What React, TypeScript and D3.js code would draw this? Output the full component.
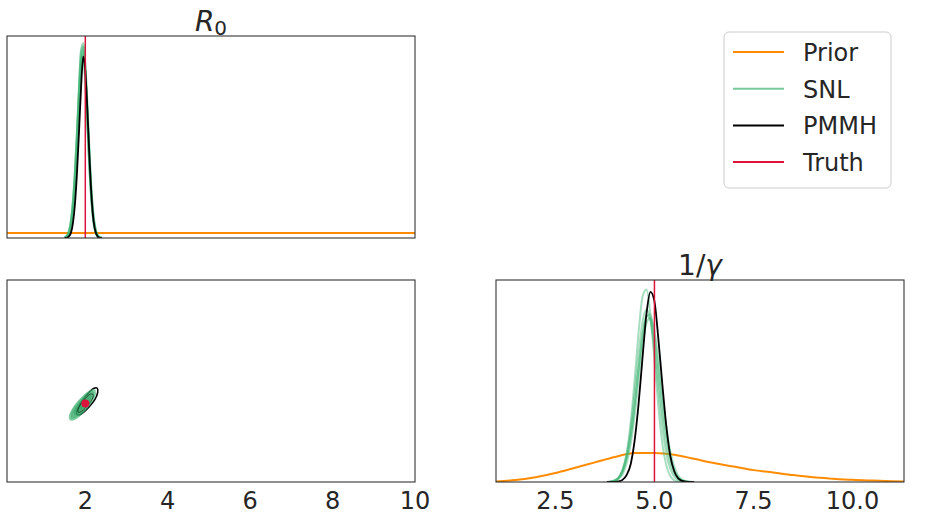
import * as React from "react";
import * as d3 from "d3";

// R0 marginal (top-left)
const r0Grid = [1.5, 1.55, 1.6, 1.65, 1.7, 1.75, 1.8, 1.85, 1.9, 1.95, 2.0, 2.05, 2.1, 2.15, 2.2, 2.25, 2.3, 2.35, 2.4];
const r0Pmmh = [0, 0.005, 0.03, 0.1, 0.3, 0.7, 1.35, 2.2, 3.1, 3.68, 3.4, 2.6, 1.65, 0.85, 0.35, 0.12, 0.03, 0.005, 0];
const r0SnlRuns = [
  [0.01, 0.04, 0.12, 0.32, 0.7, 1.3, 2.1, 3.0, 3.75, 3.88, 3.3, 2.4, 1.5, 0.8, 0.35, 0.13, 0.04, 0.01, 0],
  [0.01, 0.03, 0.1, 0.28, 0.62, 1.2, 2.0, 2.95, 3.8, 3.95, 3.4, 2.5, 1.55, 0.82, 0.36, 0.13, 0.04, 0.01, 0],
  [0, 0.02, 0.08, 0.22, 0.52, 1.05, 1.85, 2.8, 3.55, 3.8, 3.45, 2.65, 1.7, 0.92, 0.42, 0.16, 0.05, 0.015, 0],
  [0.01, 0.03, 0.11, 0.3, 0.68, 1.28, 2.08, 2.95, 3.6, 3.72, 3.25, 2.45, 1.58, 0.86, 0.38, 0.14, 0.045, 0.01, 0],
];
const r0PriorX = [0.1, 10];
const r0PriorY = [0.101, 0.101];

// 1/gamma marginal (bottom-right)
const gammaGrid = [3.8, 3.9, 4.0, 4.1, 4.2, 4.3, 4.4, 4.5, 4.6, 4.7, 4.8, 4.9, 5.0, 5.1, 5.2, 5.3, 5.4, 5.5, 5.6, 5.7, 5.8, 5.9, 6.0];
const gammaPmmh = [0, 0, 0.001, 0.005, 0.02, 0.06, 0.15, 0.35, 0.66, 1.05, 1.42, 1.6, 1.52, 1.2, 0.82, 0.47, 0.22, 0.09, 0.03, 0.01, 0.003, 0, 0];
const gammaSnlRuns = [
  [0, 0.003, 0.01, 0.03, 0.1, 0.24, 0.5, 0.86, 1.26, 1.56, 1.62, 1.4, 1.03, 0.63, 0.32, 0.14, 0.05, 0.015, 0.004, 0.001, 0, 0, 0],
  [0.001, 0.004, 0.015, 0.04, 0.1, 0.21, 0.39, 0.65, 0.95, 1.23, 1.4, 1.41, 1.23, 0.95, 0.65, 0.39, 0.21, 0.1, 0.04, 0.015, 0.004, 0.001, 0],
  [0.001, 0.003, 0.01, 0.03, 0.07, 0.16, 0.32, 0.56, 0.86, 1.15, 1.34, 1.38, 1.27, 1.02, 0.73, 0.46, 0.26, 0.13, 0.055, 0.02, 0.007, 0.002, 0],
  [0.001, 0.004, 0.014, 0.04, 0.11, 0.24, 0.45, 0.75, 1.08, 1.35, 1.45, 1.36, 1.1, 0.77, 0.46, 0.24, 0.11, 0.045, 0.015, 0.005, 0.001, 0, 0],
  [0.001, 0.003, 0.012, 0.035, 0.09, 0.2, 0.38, 0.64, 0.96, 1.24, 1.4, 1.36, 1.16, 0.86, 0.56, 0.32, 0.16, 0.07, 0.027, 0.009, 0.003, 0.001, 0],
];
const gammaPriorX = [1.0, 1.5, 2.0, 2.5, 3.0, 3.5, 4.0, 4.5, 5.0, 5.5, 6.0, 6.5, 7.0, 7.5, 8.0, 8.5, 9.0, 9.5, 10.0, 10.5, 11.0, 11.3];
const gammaPriorY = [0.004, 0.017, 0.04, 0.075, 0.12, 0.165, 0.21, 0.245, 0.245, 0.23, 0.195, 0.16, 0.13, 0.1, 0.08, 0.058, 0.04, 0.028, 0.018, 0.012, 0.007, 0.005];

// joint contours (bottom-left), [R0, 1/gamma]
const snlContours: [number, number][][] = [
  [[2.235, 5.69], [2.25, 5.49], [2.18, 5.14], [2.04, 4.73], [1.88, 4.38], [1.73, 4.17], [1.63, 4.16], [1.61, 4.36], [1.68, 4.71], [1.82, 5.12], [1.99, 5.48], [2.14, 5.69]],
  [[2.2, 5.6], [2.21, 5.42], [2.14, 5.1], [2.01, 4.76], [1.87, 4.45], [1.74, 4.26], [1.66, 4.25], [1.65, 4.42], [1.71, 4.74], [1.84, 5.1], [1.99, 5.42], [2.11, 5.6]],
  [[2.13, 5.42], [2.14, 5.29], [2.09, 5.07], [2.0, 4.8], [1.9, 4.57], [1.8, 4.44], [1.74, 4.43], [1.72, 4.56], [1.77, 4.79], [1.86, 5.05], [1.97, 5.29], [2.07, 5.42]],
  [[2.04, 5.2], [2.04, 5.13], [2.02, 5.0], [1.97, 4.86], [1.91, 4.74], [1.86, 4.67], [1.83, 4.67], [1.82, 4.74], [1.84, 4.86], [1.89, 5.0], [1.95, 5.12], [2.0, 5.2]],
];
const pmmhContours: [number, number][][] = [
  [[2.29, 5.78], [2.3, 5.56], [2.23, 5.2], [2.1, 4.85], [1.97, 4.58], [1.86, 4.43], [1.8, 4.43], [1.79, 4.58], [1.85, 4.88], [1.96, 5.24], [2.09, 5.57], [2.21, 5.78]],
  [[2.18, 5.48], [2.19, 5.34], [2.13, 5.1], [2.04, 4.86], [1.95, 4.67], [1.87, 4.56], [1.83, 4.56], [1.82, 4.67], [1.86, 4.88], [1.94, 5.12], [2.04, 5.35], [2.12, 5.48]],
];

const truthR0 = 2;
const truthInvGamma = 5;

const r0Ticks = [2, 4, 6, 8, 10];
const gammaTicks = [2.5, 5.0, 7.5, 10.0];
const legendLabels = ["Prior", "SNL", "PMMH", "Truth"];

const ORANGE = "#ff8c00";
const GREEN = "#3cb371";
const DARKGREEN = "#2e9e5e";
const RED = "#dc143c";
const FRAME = "#333333";
const TEXT = "#262626";
const FONT = "DejaVu Sans, sans-serif";

const TL = { x: 7, y: 36, w: 408, h: 202 };
const BL = { x: 7, y: 280, w: 408, h: 202 };
const BR = { x: 496, y: 280, w: 408, h: 202 };

export default function App() {
  const xR0 = d3.scaleLinear().domain([0.1, 10]).range([BL.x, BL.x + BL.w]);
  const xGamma = d3.scaleLinear().domain([1.0, 11.3]).range([BR.x, BR.x + BR.w]);
  const yR0Dens = d3.scaleLinear().domain([0, 4.1]).range([TL.y + TL.h, TL.y]);
  const yGammaDens = d3.scaleLinear().domain([0, 1.7]).range([BR.y + BR.h, BR.y]);
  const yJoint = d3.scaleLinear().domain([1.0, 11.3]).range([BL.y + BL.h, BL.y]);

  const densLine = (xs: number[], ys: number[], sx: any, sy: any) =>
    d3
      .line<number>()
      .x((_, i) => sx(xs[i]))
      .y((d) => sy(d))
      .curve(d3.curveMonotoneX)(ys) as string;

  const contour = d3
    .line<[number, number]>()
    .x((d) => xR0(d[0]))
    .y((d) => yJoint(d[1]))
    .curve(d3.curveCatmullRomClosed.alpha(0.5));

  const frame = (p: typeof TL) => (
    <rect x={p.x} y={p.y} width={p.w} height={p.h} fill="none" stroke={FRAME} strokeWidth={1.1} />
  );

  return (
    <svg width={934} height={521} style={{ position: "absolute", left: 0, top: 0, background: "#fff" }} fontFamily={FONT}>
      <defs>
        {[TL, BL, BR].map((p, i) => (
          <clipPath id={`clip${i}`} key={i}>
            <rect x={p.x} y={p.y} width={p.w} height={p.h} />
          </clipPath>
        ))}
      </defs>

      {/* R0 marginal */}
      <g clipPath="url(#clip0)">
        <path d={densLine(r0PriorX, r0PriorY, xR0, yR0Dens)} fill="none" stroke={ORANGE} strokeWidth={2} />
        {r0SnlRuns.map((run, i) => (
          <path key={i} d={densLine(r0Grid, run, xR0, yR0Dens)} fill="none" stroke={GREEN} strokeOpacity={0.5} strokeWidth={2.5} />
        ))}
        <path d={densLine(r0Grid, r0Pmmh, xR0, yR0Dens)} fill="none" stroke="#000" strokeWidth={1.8} />
        <line x1={xR0(truthR0)} x2={xR0(truthR0)} y1={TL.y} y2={TL.y + TL.h} stroke={RED} strokeWidth={1.5} />
      </g>
      {frame(TL)}
      <text x={TL.x + TL.w / 2} y={31} textAnchor="middle" fontSize={28} fill={TEXT}>
        <tspan fontStyle="italic">R</tspan>
        <tspan fontSize={20} dy={4}>0</tspan>
      </text>

      {/* joint */}
      <g clipPath="url(#clip1)">
        {pmmhContours.slice(0, 1).map((c, i) => (
          <path key={i} d={contour(c) as string} fill="none" stroke="#000" strokeWidth={1.6} />
        ))}
        {snlContours.map((c, i) => (
          <path key={i} d={contour(c) as string} fill={i === 0 ? GREEN : DARKGREEN} fillOpacity={i === 0 ? 0.6 : 0.45} stroke={GREEN} strokeOpacity={0.5} strokeWidth={0.8} />
        ))}
        {pmmhContours.slice(1).map((c, i) => (
          <path key={i} d={contour(c) as string} fill="none" stroke="#000" strokeOpacity={0.7} strokeWidth={0.8} />
        ))}
        <circle cx={xR0(truthR0)} cy={yJoint(truthInvGamma)} r={4} fill={RED} />
      </g>
      {frame(BL)}
      {r0Ticks.map((t) => (
        <text key={t} x={xR0(t)} y={509} textAnchor="middle" fontSize={24} fill={TEXT}>
          {t}
        </text>
      ))}

      {/* 1/gamma marginal */}
      <g clipPath="url(#clip2)">
        <path d={densLine(gammaPriorX, gammaPriorY, xGamma, yGammaDens)} fill="none" stroke={ORANGE} strokeWidth={2} />
        {gammaSnlRuns.map((run, i) => (
          <path key={i} d={densLine(gammaGrid, run, xGamma, yGammaDens)} fill="none" stroke={GREEN} strokeOpacity={0.45} strokeWidth={2} />
        ))}
        <path d={densLine(gammaGrid, gammaPmmh, xGamma, yGammaDens)} fill="none" stroke="#000" strokeWidth={1.8} />
        <line x1={xGamma(truthInvGamma)} x2={xGamma(truthInvGamma)} y1={BR.y} y2={BR.y + BR.h} stroke={RED} strokeWidth={1.5} />
      </g>
      {frame(BR)}
      {gammaTicks.map((t) => (
        <text key={t} x={xGamma(t)} y={509} textAnchor="middle" fontSize={24} fill={TEXT}>
          {t.toFixed(1)}
        </text>
      ))}
      <text x={BR.x + BR.w / 2} y={275} textAnchor="middle" fontSize={28} fill={TEXT}>
        <tspan>1/</tspan>
        <tspan fontStyle="italic">γ</tspan>
      </text>

      {/* legend */}
      <rect x={724} y={32} width={167} height={156} rx={5} fill="#fff" stroke="#cccccc" strokeWidth={1} />
      {legendLabels.map((label, i) => {
        const y = 52 + i * 36.7;
        const color = [ORANGE, GREEN, "#000", RED][i];
        return (
          <g key={label}>
            <line x1={733} x2={784} y1={y} y2={y} stroke={color} strokeOpacity={i === 1 ? 0.7 : 1} strokeWidth={2} />
            <text x={803} y={y + 9} fontSize={24} fill={TEXT}>
              {label}
            </text>
          </g>
        );
      })}
    </svg>
  );
}
